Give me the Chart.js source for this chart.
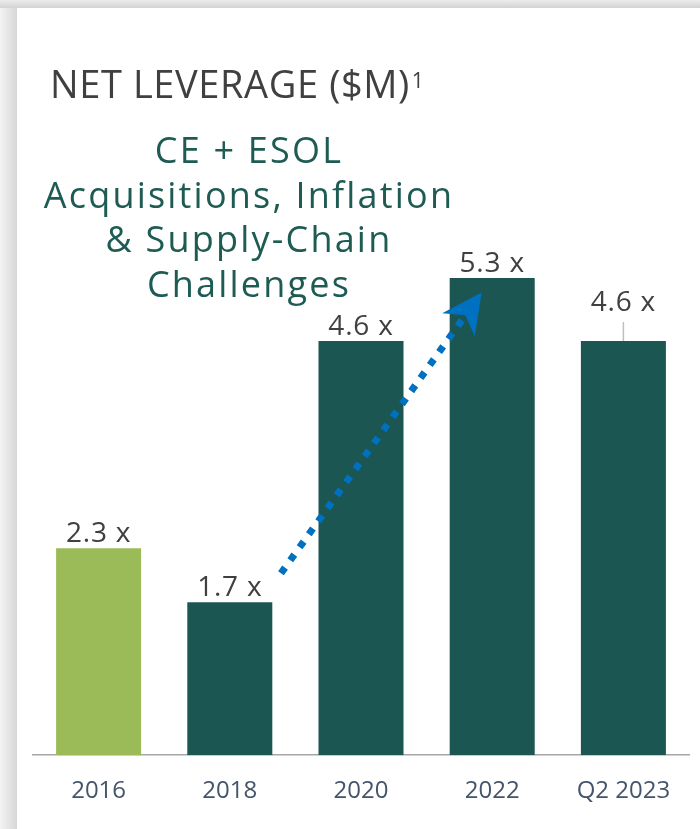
<!DOCTYPE html>
<html>
<head>
<meta charset="utf-8">
<script src="https://cdn.jsdelivr.net/npm/chart.js@4"></script>
<style>
  html, body { margin: 0; padding: 0; width: 700px; height: 829px; overflow: hidden; background: #fff; }
  .sombra-izq { position: absolute; left: 0; top: 0; width: 17px; height: 829px;
    background: linear-gradient(to right, #f4f4f4, #d6d6d6); }
  .sombra-sup { position: absolute; left: 0; top: 0; width: 700px; height: 8px;
    background: linear-gradient(to bottom, #ececec, #d3d3d3); }
  .tarjeta { position: absolute; left: 17px; top: 8px; width: 683px; height: 821px; background: #fff; }
  #contenedor { position: absolute; left: 0; top: 0; width: 700px; height: 829px; }
</style>
</head>
<body>
<div class="sombra-izq"></div>
<div class="sombra-sup"></div>
<div class="tarjeta"></div>
<div id="contenedor"><canvas id="grafico-apalancamiento"></canvas></div>
<script>
// datos
const categorias   = ["2016", "2018", "2020", "2022", "Q2 2023"];
const apalancamiento = [2.3, 1.7, 4.6, 5.3, 4.6];
const etiquetas    = ["2.3 x", "1.7 x", "4.6 x", "5.3 x", "4.6 x"];
const titulo       = "NET LEVERAGE ($M)";
const nota         = ["CE + ESOL", "Acquisitions, Inflation", "& Supply-Chain", "Challenges"];

const VERDE = "#9bbb59";
const TEAL  = "#1b5652";
const FUENTE = "'Open Sans', 'DejaVu Sans', sans-serif";

// títulos, etiquetas de valor y flecha punteada
const anotaciones = {
  id: "anotaciones",
  afterDatasetsDraw(chart, args, opts) {
    const ctx = chart.ctx;
    const meta = chart.getDatasetMeta(0);
    const x = chart.scales.x, y = chart.scales.y;
    ctx.save();

    // título
    ctx.fillStyle = "#404040";
    ctx.textAlign = "left";
    ctx.textBaseline = "alphabetic";
    ctx.font = `38px ${FUENTE}`;
    ctx.letterSpacing = "0.6px";
    ctx.fillText(titulo, 50, 98);
    const w = ctx.measureText(titulo).width;
    ctx.font = `21px ${FUENTE}`;
    ctx.fillText("1", 50 + w + 2, 88);

    // texto de la nota
    ctx.fillStyle = "#1d5b53";
    ctx.textAlign = "center";
    ctx.font = `36px ${FUENTE}`;
    ctx.letterSpacing = "2.2px";
    nota.forEach((linea, i) => ctx.fillText(linea, 249, 163 + i * 44.7));

    // etiquetas de valor
    ctx.fillStyle = "#404040";
    ctx.font = `28px ${FUENTE}`;
    ctx.letterSpacing = "0.8px";
    meta.data.forEach((bar, i) => {
      let base = bar.y - 6;
      if (i === opts.lider.indice) {
        base = bar.y - opts.lider.alto;
        ctx.strokeStyle = "#bfbfbf";
        ctx.lineWidth = 1.5;
        ctx.beginPath();
        ctx.moveTo(bar.x, base + 11);
        ctx.lineTo(bar.x, bar.y);
        ctx.stroke();
      }
      ctx.fillText(etiquetas[i], bar.x, base);
    });
    ctx.letterSpacing = "0px";

    // flecha punteada
    const ancho = x.getPixelForValue(1) - x.getPixelForValue(0);
    const x0 = x.getPixelForValue(opts.flecha.desde[0]) + opts.flecha.desde[2] * ancho;
    const y0 = y.getPixelForValue(opts.flecha.desde[1]);
    const x1 = x.getPixelForValue(opts.flecha.hasta[0]) + opts.flecha.hasta[2] * ancho;
    const y1 = y.getPixelForValue(opts.flecha.hasta[1]);
    const dx = x1 - x0, dy = y1 - y0, len = Math.hypot(dx, dy);
    const ux = dx / len, uy = dy / len;
    const L = 40, H = 20, N = 28;
    ctx.strokeStyle = "#0070c0";
    ctx.fillStyle = "#0070c0";
    ctx.lineWidth = 7;
    ctx.lineCap = "butt";
    ctx.setLineDash([7, 9]);
    ctx.beginPath();
    ctx.moveTo(x0, y0);
    ctx.lineTo(x1 - ux * N, y1 - uy * N);
    ctx.stroke();
    ctx.setLineDash([]);
    ctx.beginPath();
    ctx.moveTo(x1, y1);
    ctx.lineTo(x1 - ux * L - uy * H, y1 - uy * L + ux * H);
    ctx.lineTo(x1 - ux * N, y1 - uy * N);
    ctx.lineTo(x1 - ux * L + uy * H, y1 - uy * L - ux * H);
    ctx.closePath();
    ctx.fill();
    ctx.restore();
  }
};

const ctx = document.getElementById("grafico-apalancamiento").getContext("2d");
new Chart(ctx, {
  type: "bar",
  data: {
    labels: categorias,
    datasets: [{
      data: apalancamiento,
      backgroundColor: categorias.map((_, i) => i === 0 ? VERDE : TEAL),
      barPercentage: 0.648,
      categoryPercentage: 1
    }]
  },
  options: {
    responsive: true,
    maintainAspectRatio: false,
    animation: false,
    layout: { padding: { top: 170, left: 33, right: 11, bottom: 1 } },
    plugins: {
      legend: { display: false },
      tooltip: { enabled: false },
      anotaciones: {
        lider: { indice: 4, alto: 30 },
        flecha: { desde: [1, 2.02, 0.39], hasta: [3, 5.14, -0.08] }
      }
    },
    scales: {
      x: {
        grid: { display: false, drawTicks: false },
        border: { display: true, color: "#a6a6a6", width: 1.5 },
        ticks: { color: "#44546a", padding: 22, font: { family: FUENTE, size: 24 } }
      },
      y: { display: false, min: 0, max: 6.5 }
    }
  },
  plugins: [anotaciones]
});
</script>
</body>
</html>
